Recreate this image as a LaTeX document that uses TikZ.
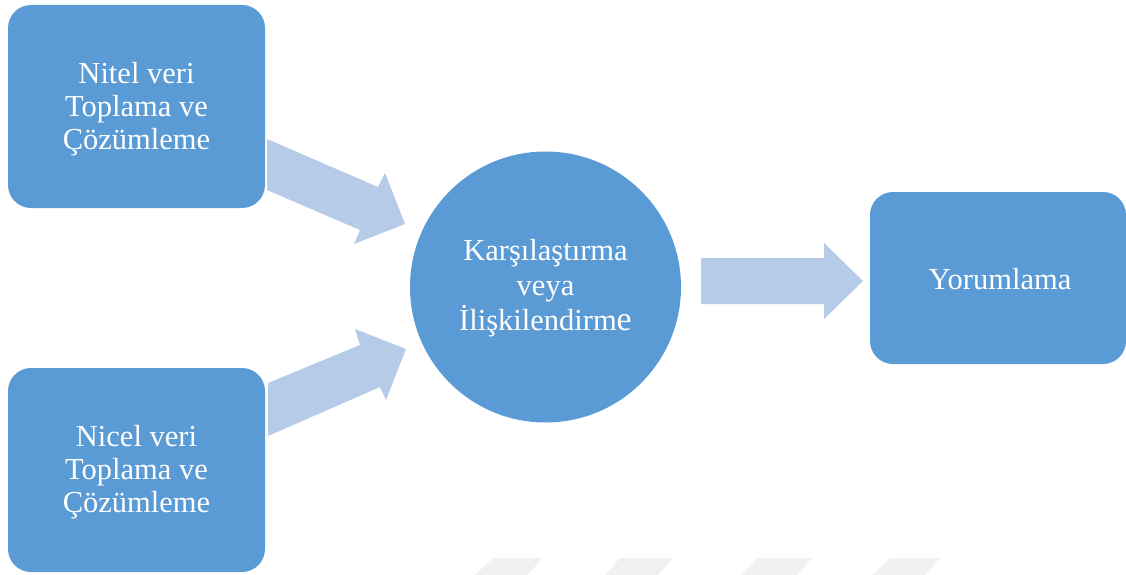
\documentclass[tikz,border=0pt]{standalone}
\usepackage{fontspec}
\setmainfont{Liberation Serif}
\definecolor{boxblue}{HTML}{5B9BD5}
\definecolor{arrowblue}{HTML}{B6CBE8}
\definecolor{wm}{HTML}{F1F1F1}
\begin{document}
\begin{tikzpicture}[x=1pt,y=-1pt,
  boxstyle/.style={fill=boxblue,draw=none,rounded corners=23pt},
  txt/.style={text=white,align=center,font=\fontsize{30.5}{33}\selectfont},
  blockarrow/.style={fill=arrowblue,draw=none},
  wmark/.style={fill=wm,draw=none}]
\useasboundingbox (0,0) rectangle (1126,575);
% watermark
\fill[wmark] (475,575) -- (493,558) -- (543,558) -- (527,575) -- cycle;
\fill[wmark] (605,575) -- (620,558) -- (673,558) -- (658,575) -- cycle;
\fill[wmark] (742,575) -- (758,558) -- (812,558) -- (797,575) -- cycle;
\fill[wmark] (872,575) -- (890,558) -- (940,558) -- (925,575) -- cycle;
% boxes
\fill[boxstyle] (8,5) rectangle (265,208);
\node[txt] (nitel) at (136.5,109) {Nitel veri\\Toplama ve\\Çözümleme};
\fill[boxstyle] (8,368) rectangle (265,572);
\node[txt] (nicel) at (136.5,472) {Nicel veri\\Toplama ve\\Çözümleme};
\fill[boxstyle] (870,192) rectangle (1126,364);
\node[txt] (yorum) at (1000,279) {Yorumlama};
\fill[boxblue] (545.5,287) circle (135.5);
\node[txt,font=\fontsize{30.5}{35}\selectfont] (kars) at (545.5,288) {Karşılaştırma\\veya\\İlişkilendirm{\fontsize{34}{35}\selectfont e}};
% arrows
\fill[blockarrow] (267,139) -- (378,187) -- (385,173) -- (405,224) -- (354,244) -- (360,230) -- (267,190) -- cycle;
\fill[blockarrow] (268,383) -- (360,345) -- (355,329) -- (406,349) -- (386,400) -- (380,387) -- (268,436) -- cycle;
\fill[blockarrow] (701,258) -- (824,258) -- (824,243) -- (863,281) -- (824,319) -- (824,304) -- (701,304) -- cycle;
\end{tikzpicture}
\end{document}
